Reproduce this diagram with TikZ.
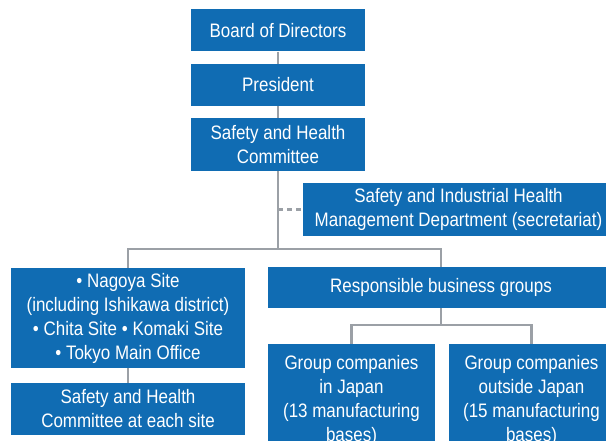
\documentclass[tikz,border=0pt]{standalone}
\usepackage{fontspec}
\setmainfont{Liberation Sans}[FakeStretch=0.87]
\definecolor{orgblue}{RGB}{16,108,179}
\definecolor{orggray}{RGB}{155,160,166}
\begin{document}
\begin{tikzpicture}[x=1pt,y=-1pt,
	org/.style={fill=orgblue,text=white,align=center,inner sep=0pt,
		font=\fontsize{19.5}{24}\selectfont},
	link/.style={draw=orggray,line width=2.5pt}]
\useasboundingbox (0,0) rectangle (606,441);
\clip (0,0) rectangle (606,441);
\def\W{174}
\node[org,minimum width=\W,minimum height=42] (board) at (278,30.5) {Board of Directors};
\node[org,minimum width=\W,minimum height=42] (pres) at (278,85) {President};
\node[org,minimum width=\W,minimum height=53] (shc) at (278,144.5) {Safety and Health\\Committee};
\node[org,minimum width=311,minimum height=53] (secr) at (458.5,209.5) {Safety and Industrial Health\\Management Department (secretariat)};
\node[org,minimum width=234,minimum height=100] (sites) at (128,318) {• Nagoya Site\\(including Ishikawa district)\\• Chita Site • Komaki Site\\• Tokyo Main Office};
\node[org,minimum width=234,minimum height=52] (sitecom) at (128,409) {Safety and Health\\Committee at each site};
\node[org,minimum width=346,minimum height=41] (resp) at (441,287.5) {Responsible business groups};
\node[org,minimum width=167,minimum height=112] (gjp) at (351.5,400) {Group companies\\in Japan\\(13 manufacturing\\bases)};
\node[org,minimum width=165,minimum height=112] (gout) at (531.5,400) {Group companies\\outside Japan\\(15 manufacturing\\bases)};
\draw[link] (board) -- (pres);
\draw[link] (pres) -- (shc);
\draw[link] (shc.south) -- ++(0,78) coordinate (split);
\draw[link,dashed,dash pattern=on 5pt off 4pt] (shc.south |- secr.west) -- (secr.west);
\draw[link] (split) -| (sites.north);
\draw[link] (split) -| (resp.north);
\draw[link] (sites) -- (sitecom);
\draw[link] (resp.south) -- ++(0,17) coordinate (fork);
\draw[link] (fork) -| (gjp.north);
\draw[link] (fork) -| (gout.north);
\end{tikzpicture}
\end{document}
